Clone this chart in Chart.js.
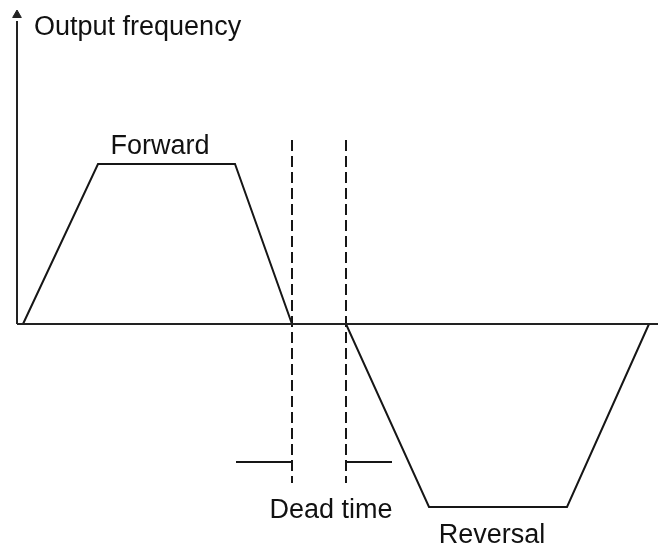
<!DOCTYPE html>
<html>
<head>
<meta charset="utf-8">
<script src="https://cdn.jsdelivr.net/npm/chart.js@4/dist/chart.umd.min.js"></script>
<style>
  html, body { margin: 0; padding: 0; background: #fff; }
  canvas { display: block; }
</style>
</head>
<body>
<canvas id="grafico" width="658" height="548"></canvas>
<script>
  // time (x) and output frequency (y), arbitrary units
  var tempo = [0.6, 8.1, 21.8, 27.5, 32.9, 41.2, 55.0, 63.2];
  var frequencia = [0, 16, 16, 0, 0, -18.3, -18.3, 0];

  // dead time: the two dashed lines and the marker bars
  var tempoMorto = [27.5, 32.9];
  var tracejadoTopo = 18.4;
  var tracejadoBase = -15.9;
  var marcaAltura = -13.8;
  var marcaEsq = [21.9, 27.5];
  var marcaDir = [32.9, 37.5];

  // labels
  var rotulos = ['Output frequency', 'Forward', 'Dead time', 'Reversal'];
  var rotuloT = [1.7, 14.3, 31.4, 47.5];
  var rotuloF = [28.9, 17.0, -19.4, -21.9];
  var rotuloAlinha = ['left', 'center', 'center', 'center'];

  var eixoTopo = 30.9;
  var tMin = -1.7, tMax = 64.1, fMin = -22.4, fMax = 32.4;

  var cor = '#161616';

  function pares(xs, ys) {
    return xs.map(function (x, i) { return { x: x, y: ys[i] }; });
  }

  function linha(data, extra) {
    var d = {
      data: data,
      showLine: true,
      borderColor: cor,
      backgroundColor: cor,
      borderWidth: 2,
      pointRadius: 0,
      pointHoverRadius: 0,
      fill: false,
      tension: 0
    };
    for (var k in extra) d[k] = extra[k];
    return d;
  }

  var rotulosPlugin = {
    id: 'rotulos',
    afterDatasetsDraw: function (chart) {
      var ctx = chart.ctx;
      var sx = chart.scales.x, sy = chart.scales.y;
      ctx.save();
      ctx.fillStyle = '#111';
      ctx.font = '27px "Liberation Sans", Arial, sans-serif';
      ctx.textBaseline = 'alphabetic';
      rotulos.forEach(function (txt, i) {
        ctx.textAlign = rotuloAlinha[i];
        ctx.fillText(txt, sx.getPixelForValue(rotuloT[i]), sy.getPixelForValue(rotuloF[i]));
      });
      ctx.restore();
    }
  };

  new Chart(document.getElementById('grafico'), {
    type: 'scatter',
    data: {
      datasets: [
        // axes
        linha(pares([0, 0], [0, eixoTopo - 0.6]), { borderColor: '#222' }),
        linha(pares([0, tMax], [0, 0]), { borderColor: '#222' }),
        { data: [{ x: 0, y: eixoTopo }], pointStyle: 'triangle', pointRadius: 5, pointHoverRadius: 5,
          backgroundColor: '#222', borderColor: '#222', borderWidth: 1, showLine: false },
        // frequency curve
        linha(pares(tempo, frequencia)),
        // dead time dashed lines
        linha(pares([tempoMorto[0], tempoMorto[0]], [tracejadoTopo, tracejadoBase]), { borderDash: [11, 5] }),
        linha(pares([tempoMorto[1], tempoMorto[1]], [tracejadoTopo, tracejadoBase]), { borderDash: [11, 5] }),
        // dead time markers
        linha(pares(marcaEsq, [marcaAltura, marcaAltura])),
        linha(pares(marcaDir, [marcaAltura, marcaAltura]))
      ]
    },
    options: {
      responsive: false,
      animation: false,
      devicePixelRatio: 1,
      layout: { padding: 0, autoPadding: false },
      plugins: { legend: { display: false }, tooltip: { enabled: false } },
      scales: {
        x: { type: 'linear', min: tMin, max: tMax, display: false },
        y: { type: 'linear', min: fMin, max: fMax, display: false }
      }
    },
    plugins: [rotulosPlugin]
  });
</script>
</body>
</html>
